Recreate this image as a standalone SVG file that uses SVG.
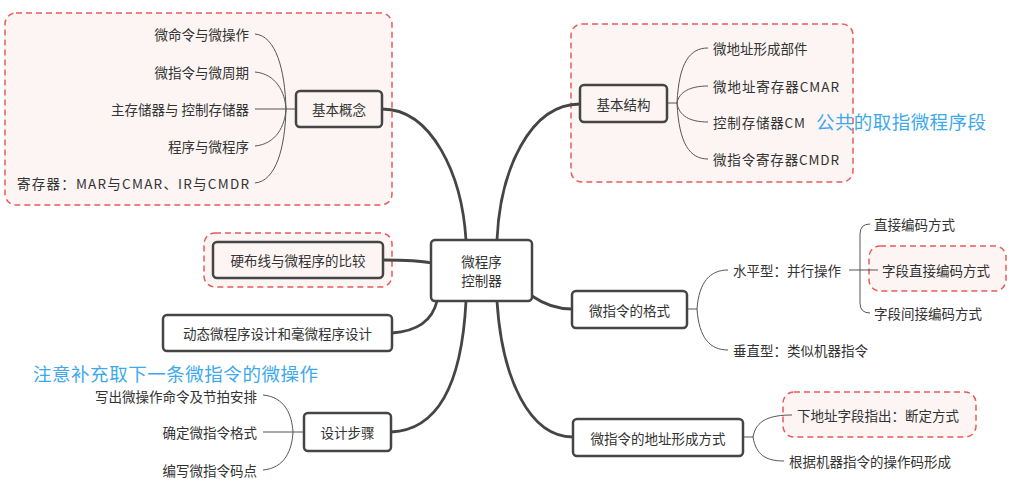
<svg xmlns="http://www.w3.org/2000/svg" width="1010" height="485" viewBox="0 0 1010 485">
<style>
text{font-family:"Noto Sans CJK SC","Noto Sans",sans-serif;fill:#333;font-size:13.5px;dominant-baseline:central}
.node{fill:#fff;stroke:#454545;stroke-width:2.5}
.pnode{fill:#fcf5f4;stroke:#454545;stroke-width:2.5}
.region{fill:#fcf5f4;stroke:#e65b5b;stroke-width:1.5;stroke-dasharray:6 4}
.main{fill:none;stroke:#454545;stroke-width:2.8;stroke-linecap:round}
.thin{fill:none;stroke:#555;stroke-width:1}
.note{fill:#3ea8ec;font-size:18.5px}
.c{text-anchor:middle}
.e{text-anchor:end}
</style>
<rect width="1010" height="485" fill="#fff"/>
<g id="regions">
<rect class="region" x="5" y="13" width="387" height="192" rx="11"/>
<rect class="region" x="571" y="24" width="282" height="158" rx="11"/>
<rect class="region" x="204" y="233" width="188" height="54" rx="11"/>
<rect class="region" x="869" y="246" width="137" height="45" rx="11"/>
<rect class="region" x="783" y="392" width="193" height="45" rx="11"/>
</g>
<g id="connectors">
<path class="main" d="M382,109 C432,109 462,175 466,240"/>
<path class="main" d="M580,104 C530,104 500,170 497,240"/>
<path class="main" d="M383,260 C400,260 418,260 431,263"/>
<path class="main" d="M392,333 C420,331 433,318 437,301"/>
<path class="main" d="M391,432 C440,430 462,380 466,301"/>
<path class="main" d="M532,296 C545,305 558,309 572,309"/>
<path class="main" d="M497,301 C502,380 530,437 573,437"/>
<path class="thin" d="M255,34 C276,36 285,70 286,109"/>
<path class="thin" d="M255,72 C276,74 285,92 286,109"/>
<path class="thin" d="M255,109 L296,109"/>
<path class="thin" d="M255,146 C276,144 285,126 286,109"/>
<path class="thin" d="M255,183 C276,181 285,148 286,109"/>
<path class="thin" d="M667,103 L677,103"/>
<path class="thin" d="M677,103 C679,62 690,48 708,48"/>
<path class="thin" d="M677,103 C679,92 690,86 708,86"/>
<path class="thin" d="M677,103 C679,116 690,122 708,122"/>
<path class="thin" d="M677,103 C679,144 690,159 708,159"/>
<path class="thin" d="M687,309 L697,309"/>
<path class="thin" d="M697,309 C699,282 710,270 728,270"/>
<path class="thin" d="M697,309 C699,338 710,350 728,350"/>
<path class="thin" d="M849,270 L878,270"/>
<path class="thin" d="M870,224 Q860,224 860,234 L860,303 Q860,313 870,313"/>
<path class="thin" d="M743,437 L753,437"/>
<path class="thin" d="M753,437 C756,420 770,415 792,415"/>
<path class="thin" d="M753,437 C756,455 766,461 784,461"/>
<path class="thin" d="M263,395 C285,397 292,415 293,432"/>
<path class="thin" d="M263,432 L304,432"/>
<path class="thin" d="M263,470 C285,468 292,450 293,432"/>
</g>
<g id="center">
<rect class="node" x="431" y="240" width="101" height="61" rx="4"/>
<text class="c" x="481.5" y="261">微程序</text>
<text class="c" x="481.5" y="280">控制器</text>
</g>
<g id="n-jibengainian">
<rect class="pnode" x="296" y="91" width="86" height="36" rx="4"/>
<text class="c" x="339" y="109">基本概念</text>
</g>
<g id="l-jibengainian">
<text class="e" x="249" y="34">微命令与微操作</text>
<text class="e" x="249" y="72">微指令与微周期</text>
<text class="e" x="249" y="109">主存储器与 控制存储器</text>
<text class="e" x="249" y="146">程序与微程序</text>
<text x="17" y="183" textLength="232">寄存器：MAR与CMAR、IR与CMDR</text>
</g>
<g id="n-jibenjiegou">
<rect class="pnode" x="580" y="85" width="87" height="37" rx="4"/>
<text class="c" x="623.5" y="103.5">基本结构</text>
</g>
<g id="l-jibenjiegou">
<text x="713" y="48">微地址形成部件</text>
<text x="713" y="86" textLength="126">微地址寄存器CMAR</text>
<text x="713" y="122" textLength="92">控制存储器CM</text>
<text x="713" y="159" textLength="126">微指令寄存器CMDR</text>
</g>
<text class="note" x="816" y="121" textLength="170">公共的取指微程序段</text>
<g id="n-yingbuxian">
<rect class="pnode" x="213" y="242" width="170" height="36" rx="4"/>
<text class="c" x="298" y="260">硬布线与微程序的比较</text>
</g>
<g id="n-dongtai">
<rect class="node" x="163" y="315" width="229" height="36" rx="4"/>
<text class="c" x="277.5" y="333">动态微程序设计和毫微程序设计</text>
</g>
<g id="n-sheji">
<rect class="node" x="304" y="413" width="87" height="38" rx="4"/>
<text class="c" x="347.5" y="432">设计步骤</text>
</g>
<text class="note" x="33" y="373" textLength="285">注意补充取下一条微指令的微操作</text>
<g id="l-sheji">
<text class="e" x="257" y="396">写出微操作命令及节拍安排</text>
<text class="e" x="257" y="432">确定微指令格式</text>
<text class="e" x="257" y="470">编写微指令码点</text>
</g>
<g id="n-geshi">
<rect class="node" x="572" y="291" width="115" height="37" rx="4"/>
<text class="c" x="629.5" y="309.5">微指令的格式</text>
</g>
<g id="l-geshi">
<text x="733" y="270">水平型：并行操作</text>
<text x="733" y="350">垂直型：类似机器指令</text>
<text x="874" y="224">直接编码方式</text>
<text x="882" y="270">字段直接编码方式</text>
<text x="874" y="313">字段间接编码方式</text>
</g>
<g id="n-dizhi">
<rect class="node" x="573" y="419" width="170" height="37" rx="4"/>
<text class="c" x="658" y="437.5">微指令的地址形成方式</text>
</g>
<g id="l-dizhi">
<text x="797" y="415">下地址字段指出：断定方式</text>
<text x="789" y="461">根据机器指令的操作码形成</text>
</g>
</svg>
